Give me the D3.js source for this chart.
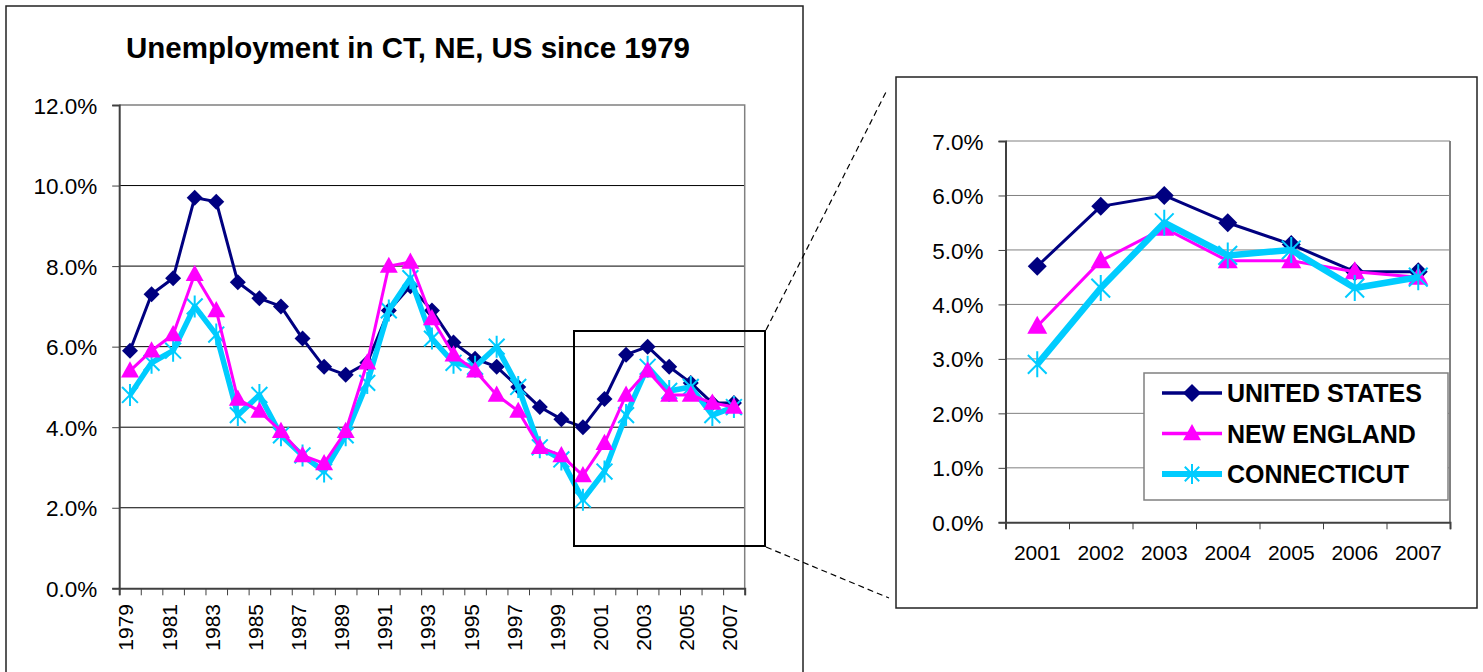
<!DOCTYPE html>
<html>
<head>
<meta charset="utf-8">
<script src="https://cdn.jsdelivr.net/npm/d3@7/dist/d3.min.js"></script>
<style>
  body { margin: 0; background: #fff; }
  svg { display: block; font-family: "Liberation Sans", Arial, sans-serif; }
</style>
</head>
<body>
<svg id="chart" width="1483" height="672"></svg>
<script>
// data (percent)
const years = [1979, 1980, 1981, 1982, 1983, 1984, 1985, 1986, 1987, 1988, 1989, 1990, 1991, 1992,
  1993, 1994, 1995, 1996, 1997, 1998, 1999, 2000, 2001, 2002, 2003, 2004, 2005, 2006, 2007];
const usRate = [5.9, 7.3, 7.7, 9.7, 9.6, 7.6, 7.2, 7.0, 6.2, 5.5, 5.3, 5.6, 6.9, 7.5,
  6.9, 6.1, 5.7, 5.5, 5.0, 4.5, 4.2, 4.0, 4.7, 5.8, 6.0, 5.5, 5.1, 4.6, 4.6];
const neRate = [5.4, 5.9, 6.3, 7.8, 6.9, 4.7, 4.4, 3.9, 3.3, 3.1, 3.9, 5.6, 8.0, 8.1,
  6.7, 5.8, 5.4, 4.8, 4.4, 3.5, 3.3, 2.8, 3.6, 4.8, 5.4, 4.8, 4.8, 4.6, 4.5];
const ctRate = [4.8, 5.6, 5.9, 7.0, 6.3, 4.3, 4.8, 3.8, 3.3, 2.9, 3.8, 5.1, 6.9, 7.7,
  6.2, 5.6, 5.5, 6.0, 5.0, 3.5, 3.2, 2.2, 2.9, 4.3, 5.5, 4.9, 5.0, 4.3, 4.5];
const leftTicks = [0, 2, 4, 6, 8, 10, 12];
const rightTicks = [0, 1, 2, 3, 4, 5, 6, 7];
const leftLabelYears = [1979, 1981, 1983, 1985, 1987, 1989, 1991, 1993, 1995, 1997, 1999, 2001, 2003, 2005, 2007];
const zoomYears = [2001, 2002, 2003, 2004, 2005, 2006, 2007];
const seriesNames = ["UNITED STATES", "NEW ENGLAND", "CONNECTICUT"];
const title = "Unemployment in CT, NE, US since 1979";

const svg = d3.select("#chart");

const series = [
  { name: seriesNames[0], values: usRate, color: "#000080", width: 3, marker: "diamond" },
  { name: seriesNames[1], values: neRate, color: "#FF00FF", width: 3, marker: "triangle" },
  { name: seriesNames[2], values: ctRate, color: "#00CCFF", width: 5.5, marker: "star" }
];

function markerPath(type, r) {
  if (type === "diamond") return `M0,${-r}L${r},0L0,${r}L${-r},0Z`;
  if (type === "triangle") return `M0,${-r * 1.05}L${r},${r * 0.75}L${-r},${r * 0.75}Z`;
  const d = r * 0.72;
  return `M0,${-r}V${r}M${-d},${-d}L${d},${d}M${d},${-d}L${-d},${d}`;
}

function drawMarker(g, type, color, r) {
  const p = g.append("path").attr("d", markerPath(type, r));
  if (type === "star") p.attr("fill", "none").attr("stroke", color).attr("stroke-width", 2);
  else p.attr("fill", color);
}

function fmt(d) { return d.toFixed(1) + "%"; }

// ---------- left chart ----------
svg.append("rect").attr("x", 6).attr("y", 6).attr("width", 797).attr("height", 690)
  .attr("fill", "none").attr("stroke", "#222").attr("stroke-width", 1.5);

svg.append("text").attr("x", 408).attr("y", 58).attr("text-anchor", "middle")
  .style("font-size", "29.5px").style("font-weight", "bold").text(title);

const L = { left: 119.2, right: 744.7, top: 105, bottom: 588.3 };
const xL = d3.scaleBand().domain(years).range([L.left, L.right]);
const yL = d3.scaleLinear().domain([0, 12]).range([L.bottom, L.top]);

const gl = svg.append("g");
// gridlines
gl.selectAll(".grid").data(leftTicks.filter(t => t > 0 && t < 12)).enter().append("line")
  .attr("x1", L.left).attr("x2", L.right)
  .attr("y1", d => yL(d)).attr("y2", d => yL(d))
  .attr("stroke", "#000").attr("stroke-width", 1);
// plot border top/right
gl.append("path").attr("d", `M${L.left},${L.top}H${L.right}V${L.bottom}`)
  .attr("fill", "none").attr("stroke", "#808080").attr("stroke-width", 1.5);

// y axis
const yAxisL = gl.append("g").attr("transform", `translate(${L.left},0)`)
  .call(d3.axisLeft(yL).tickValues(leftTicks).tickFormat(fmt).tickSize(7).tickPadding(15));
yAxisL.select(".domain").attr("stroke", "#404040").attr("stroke-width", 2);
yAxisL.selectAll(".tick line").attr("stroke", "#404040");
yAxisL.selectAll("text").style("font-size", "22.5px").attr("fill", "#000")
  .attr("font-family", null).attr("dy", "0.36em");

// x axis: ticks at category boundaries
const xbL = d3.scaleLinear().domain([0, years.length]).range([L.left, L.right]);
const xAxisL = gl.append("g").attr("transform", `translate(0,${L.bottom})`)
  .call(d3.axisBottom(xbL).tickValues(d3.range(0, years.length + 1)).tickFormat("").tickSize(7));
xAxisL.select(".domain").attr("stroke", "#404040").attr("stroke-width", 2);
xAxisL.selectAll(".tick line").attr("stroke", "#404040");

gl.selectAll(".xlab").data(leftLabelYears).enter().append("text")
  .attr("transform", d => `translate(${xL(d) + xL.bandwidth() / 2 + 3.5},604) rotate(-90)`)
  .attr("text-anchor", "end").style("font-size", "21px").text(d => d);

function drawSeries(g, s, xs, ys, cats, vals, mr, lw) {
  const line = d3.line().x((d, i) => xs(cats[i]) + xs.bandwidth() / 2).y(d => ys(d));
  g.append("path").attr("d", line(vals)).attr("fill", "none")
    .attr("stroke", s.color).attr("stroke-width", lw).attr("stroke-linejoin", "round");
  vals.forEach((v, i) => {
    const m = g.append("g").attr("transform", `translate(${xs(cats[i]) + xs.bandwidth() / 2},${ys(v)})`);
    drawMarker(m, s.marker, s.color, mr);
  });
}

[series[0], series[2], series[1]].forEach(s => {
  const mr = s.marker === "star" ? 11 : (s.marker === "triangle" ? 9 : 8);
  drawSeries(gl, s, xL, yL, years, s.values, mr, s.width);
});

// zoom box + connectors
svg.append("rect").attr("x", 574).attr("y", 331).attr("width", 191).attr("height", 215)
  .attr("fill", "none").attr("stroke", "#000").attr("stroke-width", 2);
svg.append("line").attr("x1", 766).attr("y1", 330).attr("x2", 886).attr("y2", 92)
  .attr("stroke", "#000").attr("stroke-width", 1.2).attr("stroke-dasharray", "6,4");
svg.append("line").attr("x1", 766).attr("y1", 547).attr("x2", 889).attr("y2", 598)
  .attr("stroke", "#000").attr("stroke-width", 1.2).attr("stroke-dasharray", "6,4");

// ---------- right chart ----------
svg.append("rect").attr("x", 896).attr("y", 77).attr("width", 581).attr("height", 531)
  .attr("fill", "none").attr("stroke", "#222").attr("stroke-width", 1.5);

const R = { left: 1005.5, right: 1450, top: 141, bottom: 522.3 };
const xR = d3.scaleBand().domain(zoomYears).range([R.left, R.right]);
const yR = d3.scaleLinear().domain([0, 7]).range([R.bottom, R.top]);
const gr = svg.append("g");

gr.selectAll(".grid").data(rightTicks.filter(t => t > 0)).enter().append("line")
  .attr("x1", R.left).attr("x2", R.right)
  .attr("y1", d => yR(d)).attr("y2", d => yR(d))
  .attr("stroke", "#808080").attr("stroke-width", 1);
gr.append("line").attr("x1", R.right).attr("x2", R.right).attr("y1", R.top).attr("y2", R.bottom)
  .attr("stroke", "#808080").attr("stroke-width", 2);

const yAxisR = gr.append("g").attr("transform", `translate(${R.left},0)`)
  .call(d3.axisLeft(yR).tickValues(rightTicks).tickFormat(fmt).tickSize(7).tickPadding(15));
yAxisR.select(".domain").attr("stroke", "#404040").attr("stroke-width", 2);
yAxisR.selectAll(".tick line").attr("stroke", "#404040");
yAxisR.selectAll("text").style("font-size", "22.5px").attr("fill", "#000")
  .attr("font-family", null).attr("dy", "0.36em");

const xbR = d3.scaleLinear().domain([0, zoomYears.length]).range([R.left, R.right]);
const xAxisR = gr.append("g").attr("transform", `translate(0,${R.bottom})`)
  .call(d3.axisBottom(xbR).tickValues(d3.range(0, zoomYears.length + 1)).tickFormat("").tickSize(7));
xAxisR.select(".domain").attr("stroke", "#404040").attr("stroke-width", 2);
xAxisR.selectAll(".tick line").attr("stroke", "#404040");
gr.selectAll(".xlab").data(zoomYears).enter().append("text")
  .attr("x", d => xR(d) + xR.bandwidth() / 2).attr("y", 560)
  .attr("text-anchor", "middle").style("font-size", "21px").text(d => d);

const start = years.indexOf(zoomYears[0]);
series.forEach(s => {
  const vals = s.values.slice(start);
  const mr = s.marker === "star" ? 13 : (s.marker === "triangle" ? 10 : 9.5);
  const lw = s.marker === "star" ? 6.5 : s.width;
  drawSeries(gr, s, xR, yR, zoomYears, vals, mr, lw);
});

// legend
const lg = svg.append("g");
lg.append("rect").attr("x", 1144).attr("y", 373).attr("width", 304).attr("height", 127)
  .attr("fill", "#fff").attr("stroke", "#808080").attr("stroke-width", 1.5);
series.forEach((s, i) => {
  const y = 393 + i * 40.5;
  lg.append("line").attr("x1", 1162).attr("x2", 1222).attr("y1", y).attr("y2", y)
    .attr("stroke", s.color).attr("stroke-width", s.marker === "star" ? 6 : 3.5);
  const m = lg.append("g").attr("transform", `translate(1192,${y})`);
  drawMarker(m, s.marker, s.color, s.marker === "star" ? 10 : 9);
  lg.append("text").attr("x", 1227).attr("y", y + 9).style("font-size", "25px")
    .style("font-weight", "bold").text(s.name);
});
</script>
</body>
</html>
